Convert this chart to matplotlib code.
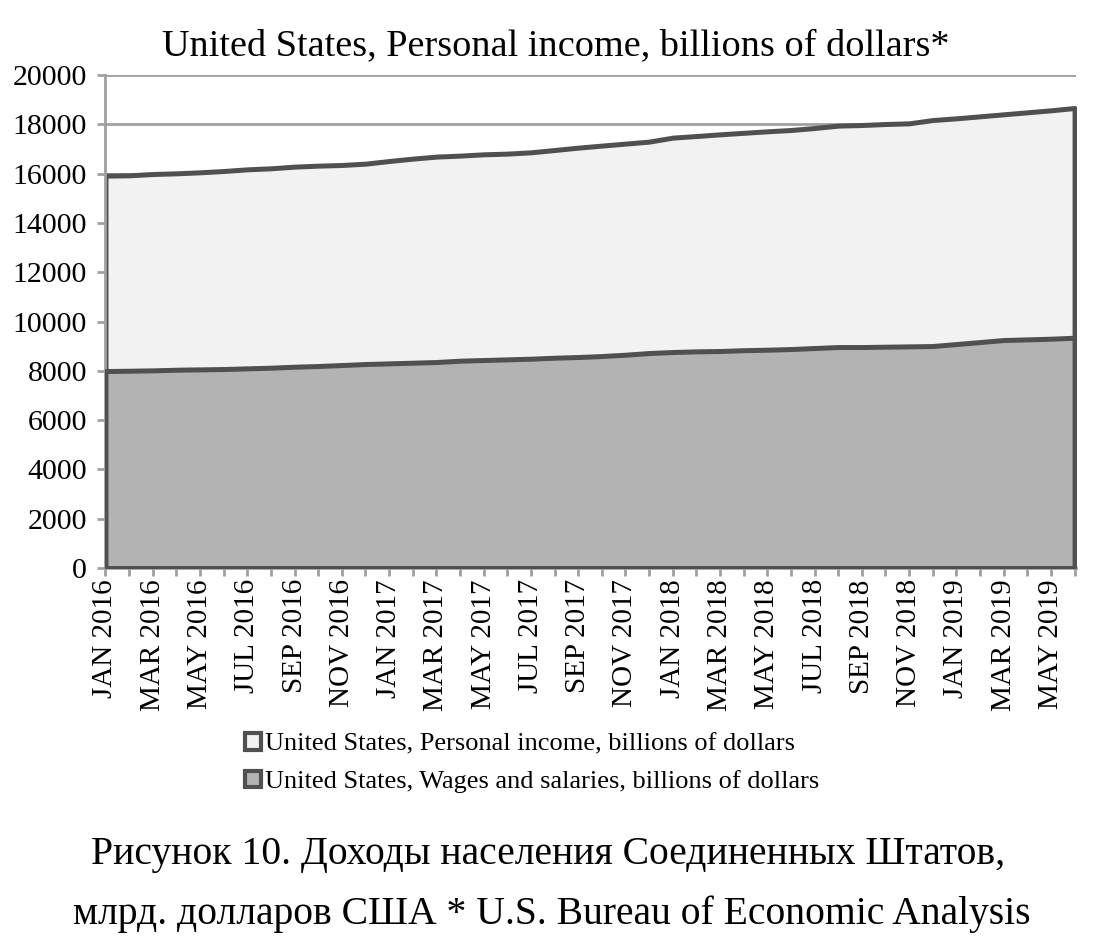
import matplotlib
matplotlib.use('Agg')
import matplotlib.pyplot as plt
from matplotlib.patches import Patch
import numpy as np

plt.rcParams['font.family'] = ['Liberation Serif', 'DejaVu Serif']

months = ['JAN', 'FEB', 'MAR', 'APR', 'MAY', 'JUN', 'JUL', 'AUG', 'SEP', 'OCT', 'NOV', 'DEC']
labels = ['%s %d' % (m, y) for y in (2016, 2017, 2018, 2019) for m in months][:42]

# billions of dollars, monthly
personal_income = [15919, 15931, 15984, 16012, 16053, 16106, 16174, 16215, 16283, 16323,
                   16350, 16404, 16511, 16608, 16690, 16730, 16783, 16811, 16864, 16958,
                   17054, 17136, 17217, 17298, 17460, 17525, 17594, 17655, 17716, 17769,
                   17850, 17947, 17972, 18012, 18040, 18174, 18243, 18324, 18406, 18487,
                   18568, 18662]
wages = [7992, 8004, 8019, 8045, 8059, 8073, 8100, 8127, 8167, 8195,
         8235, 8276, 8303, 8330, 8357, 8411, 8438, 8465, 8492, 8532,
         8560, 8600, 8654, 8722, 8763, 8790, 8804, 8837, 8857, 8884,
         8925, 8965, 8965, 8979, 8992, 9006, 9087, 9168, 9249, 9276,
         9303, 9343]

name_pi = 'United States, Personal income, billions of dollars'
name_w = 'United States, Wages and salaries, billions of dollars'

GRID = '#a0a0a0'
EDGE = '#505050'

fig = plt.figure(figsize=(11.02, 9.40), dpi=100)
ax = fig.add_axes([0.0953, 0.3957, 0.8811, 0.5245])

x = np.arange(len(labels))
ax.fill_between(x, 0, personal_income, facecolor='#f2f2f2', edgecolor=EDGE, linewidth=3.6, zorder=2)
ax.fill_between(x, 0, wages, facecolor='#b3b3b3', edgecolor=EDGE, linewidth=3.6, zorder=3)

ax.set_ylim(0, 20000)
ax.set_xlim(-0.02, 41.06)
ax.set_yticks(range(0, 20001, 2000))
ax.yaxis.grid(True, color=GRID, linewidth=2)
ax.set_axisbelow(True)

ax.set_xticks(x)
ax.set_xticklabels([l if i % 2 == 0 else '' for i, l in enumerate(labels)], rotation=90, va='top', ha='center',
                   fontsize=21)

for s in ('top', 'right'):
    ax.spines[s].set_visible(False)
for s in ('left', 'bottom'):
    ax.spines[s].set_color(GRID)
    ax.spines[s].set_linewidth(2)
ax.tick_params(axis='both', colors=GRID, width=2, length=6, labelcolor='black')
ax.tick_params(axis='y', pad=7, labelsize=21.5)
ax.tick_params(axis='x', pad=2)

fig.text(0.504, 0.951, 'United States, Personal income, billions of dollars*', ha='center', va='center', fontsize=27.5)

handles = [Patch(facecolor='#f2f2f2', edgecolor=EDGE, linewidth=3, label=name_pi),
           Patch(facecolor='#b3b3b3', edgecolor=EDGE, linewidth=3, label=name_w)]
fig.legend(handles=handles, loc='center', bbox_to_anchor=(0.483, 0.188), frameon=False,
           fontsize=19, handlelength=0.6, handleheight=0.6, handletextpad=0.15, labelspacing=0.55)

fig.text(0.497, 0.091, 'Рисунок 10. Доходы населения Соединенных Штатов,', ha='center', va='center', fontsize=28.5)
fig.text(0.501, 0.027, 'млрд. долларов США * U.S. Bureau of Economic Analysis', ha='center', va='center', fontsize=28.5)

fig.savefig('out.png', dpi=100)
